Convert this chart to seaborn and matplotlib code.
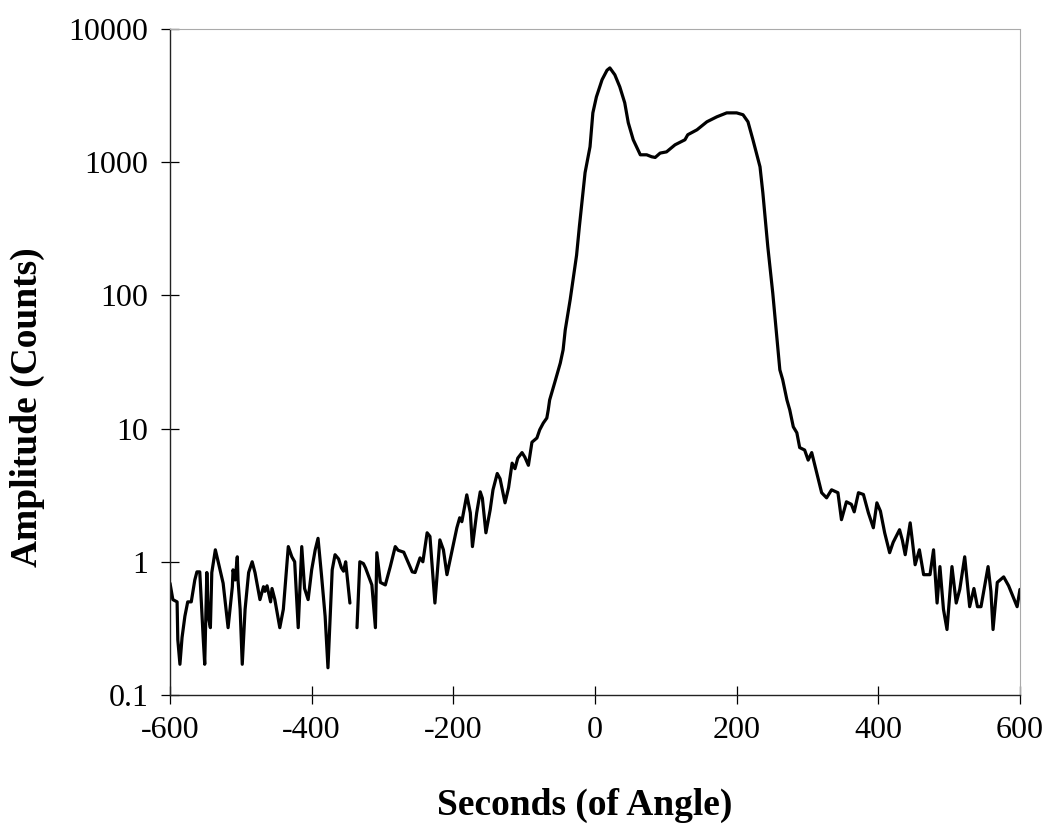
import numpy as np
import pandas as pd
import matplotlib
matplotlib.use("Agg")
import matplotlib.pyplot as plt
import seaborn as sns
from matplotlib.ticker import FixedLocator, FixedFormatter

# Segment 1 (before the small gap)
x_seg1 = [-600, -596, -590, -589, -586, -583, -579, -575, -570, -565, -562, -558, -553, -551,
          -548, -546, -543, -541, -536, -532, -525, -518, -512, -511, -508, -505, -504, -501,
          -498, -494, -489, -484, -480, -473, -468, -466, -463, -458, -456, -452, -445, -440,
          -433, -428, -424, -419, -414, -410, -405, -400, -395, -391, -386, -381, -377, -371,
          -367, -362, -358, -355, -352, -346]
y_seg1 = [0.69, 0.52, 0.5, 0.26, 0.17, 0.27, 0.39, 0.5, 0.5, 0.73, 0.84, 0.84, 0.26, 0.17,
          0.83, 0.39, 0.32, 0.83, 1.23, 1.0, 0.69, 0.32, 0.65, 0.87, 0.73, 1.09, 0.73, 0.44,
          0.17, 0.44, 0.83, 1.0, 0.83, 0.52, 0.65, 0.6, 0.66, 0.5, 0.63, 0.52, 0.32, 0.44,
          1.3, 1.09, 1.0, 0.32, 1.3, 0.63, 0.52, 0.87, 1.23, 1.5, 0.78, 0.39, 0.16, 0.87,
          1.13, 1.05, 0.9, 0.85, 1.0, 0.49]

# Segment 2 (rest of the scan)
x_seg2 = [-336, -332, -327, -324, -315, -310, -308, -303, -296, -289, -282, -278, -270, -258,
          -254, -247, -243, -237, -233, -226, -219, -214, -209, -202, -195, -191, -188, -181,
          -176, -173, -167, -162, -159, -154, -148, -144, -138, -134, -127, -122, -117, -113,
          -109, -103, -99, -94, -89, -82, -78, -73, -68, -66, -64, -57, -49, -45, -42, -35,
          -31, -26, -22, -18, -14, -7, -3, 2, 10, 17, 21, 28, 35, 42, 47, 54, 64, 73, 80, 85,
          92, 101, 113, 127, 131, 144, 158, 172, 186, 200, 209, 216, 223, 233, 237, 244, 251,
          261, 265, 271, 275, 280, 285, 289, 296, 301, 306, 313, 320, 327, 334, 343, 348, 355,
          362, 366, 372, 379, 386, 393, 398, 403, 409, 416, 421, 430, 434, 438, 445, 448, 452,
          458, 464, 473, 478, 483, 487, 492, 497, 504, 510, 515, 522, 529, 535, 540, 545, 555,
          559, 562, 568, 577, 584, 596, 600]
y_seg2 = [0.32, 1.0, 0.97, 0.9, 0.67, 0.32, 1.17, 0.7, 0.67, 0.92, 1.3, 1.22, 1.18, 0.84,
          0.83, 1.07, 1.0, 1.65, 1.55, 0.49, 1.46, 1.23, 0.8, 1.2, 1.8, 2.14, 2.0, 3.18,
          2.33, 1.3, 2.33, 3.35, 3.0, 1.65, 2.45, 3.47, 4.6, 4.2, 2.77, 3.6, 5.5, 5.0,
          6.0, 6.6, 6.1, 5.3, 7.9, 8.5, 9.8, 11.0, 12.0, 13.8, 16.4, 22, 31, 39, 55, 93,
          131, 200, 330, 522, 834, 1306, 2345, 3090, 4160, 4900, 5100, 4530, 3680, 2790, 1977, 1473,
          1136, 1136, 1098, 1085, 1170, 1195, 1350, 1473, 1607, 1750, 2010, 2190, 2345, 2345, 2270,
          2010, 1473, 923, 589, 232, 104, 27.6, 23.3, 16.4, 13.8, 10.3, 9.3, 7.2, 6.9, 5.8,
          6.6, 4.65, 3.3, 3.02, 3.47, 3.3, 2.07, 2.82, 2.7, 2.37, 3.3, 3.2, 2.33, 1.8, 2.77,
          2.4, 1.65, 1.17, 1.4, 1.74, 1.45, 1.13, 1.96, 1.45, 0.95, 1.23, 0.8, 0.8, 1.23, 0.49,
          0.92, 0.44, 0.31, 0.92, 0.49, 0.62, 1.09, 0.46, 0.63, 0.46, 0.46, 0.92, 0.6, 0.31,
          0.7, 0.77, 0.66, 0.46, 0.62]

x_ticks = [-600, -400, -200, 0, 200, 400, 600]
y_ticks = [0.1, 1, 10, 100, 1000, 10000]
y_tick_labels = ["0.1", "1", "10", "100", "1000", "10000"]
x_label = "Seconds (of Angle)"
y_label = "Amplitude (Counts)"

df = pd.DataFrame({
    "x": x_seg1 + x_seg2,
    "y": y_seg1 + y_seg2,
    "seg": [1] * len(x_seg1) + [2] * len(x_seg2),
})

sns.set_theme(style="white")
plt.rcParams["font.family"] = ["Liberation Serif", "DejaVu Serif"]

fig = plt.figure(figsize=(10.54, 8.35), dpi=100)
ax = fig.add_axes([0.1613, 0.1677, 0.8064, 0.7976])

sns.lineplot(data=df, x="x", y="y", units="seg", estimator=None, sort=False,
             color="black", linewidth=2.3, ax=ax)

ax.set_yscale("log")
ax.set_xlim(-600, 600)
ax.set_ylim(0.1, 10000)
ax.xaxis.set_major_locator(FixedLocator(x_ticks))
ax.set_xticklabels([str(t) for t in x_ticks])
ax.yaxis.set_major_locator(FixedLocator(y_ticks))
ax.yaxis.set_major_formatter(FixedFormatter(y_tick_labels))
ax.yaxis.set_minor_locator(FixedLocator([]))

ax.tick_params(axis="both", which="major", direction="inout", length=13, width=0.9,
               color="black", labelcolor="black", labelsize=23, pad=9, bottom=True, left=True)

for side in ["left", "bottom"]:
    ax.spines[side].set_color("#222222")
    ax.spines[side].set_linewidth(1.0)
for side in ["top", "right"]:
    ax.spines[side].set_color("#aaaaaa")
    ax.spines[side].set_linewidth(0.8)
    ax.spines[side].set_linestyle((0, (2, 1)))

ax.set_xlabel(x_label, fontsize=27, fontweight="bold", color="black")
ax.set_ylabel(y_label, fontsize=27, fontweight="bold", color="black")
ax.xaxis.set_label_coords(0.488, -0.14)
ax.yaxis.set_label_coords(-0.147, 0.432)

fig.savefig("out.png", dpi=100, facecolor="white")
